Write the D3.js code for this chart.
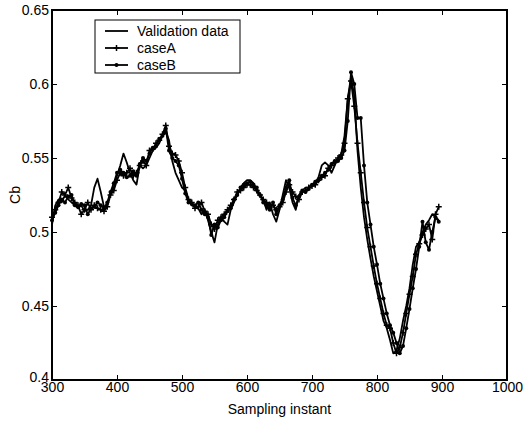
<!DOCTYPE html>
<html>
<head>
<meta charset="utf-8">
<script src="https://cdn.jsdelivr.net/npm/d3@7"></script>
<style>
  body { margin: 0; background: #fff; }
  svg { font-family: "Liberation Sans", Arial, sans-serif; }
</style>
</head>
<body>
<div id="chart"></div>
<script>
// sampling instants (step 5)
const samples = d3.range(300, 900, 5);

const validation = [
  0.505, 0.518, 0.522, 0.520, 0.525, 0.522, 0.520, 0.518, 0.516, 0.518,
  0.514, 0.515, 0.518, 0.530, 0.536, 0.527, 0.517, 0.518, 0.527, 0.530,
  0.538, 0.545, 0.553, 0.547, 0.540, 0.535, 0.532, 0.545, 0.543, 0.545,
  0.550, 0.555, 0.557, 0.560, 0.565, 0.568, 0.562, 0.548, 0.540, 0.535,
  0.530, 0.528, 0.522, 0.518, 0.517, 0.516, 0.512, 0.515, 0.508, 0.500,
  0.493, 0.505, 0.510, 0.507, 0.505, 0.515, 0.520, 0.525, 0.530, 0.533,
  0.535, 0.535, 0.533, 0.527, 0.525, 0.522, 0.515, 0.520, 0.512, 0.507,
  0.515, 0.525, 0.535, 0.530, 0.520, 0.515, 0.525, 0.528, 0.530, 0.530,
  0.532, 0.533, 0.537, 0.545, 0.547, 0.545, 0.540, 0.545, 0.550, 0.553,
  0.565, 0.590, 0.605, 0.592, 0.555, 0.530, 0.510, 0.495, 0.482, 0.470,
  0.460, 0.450, 0.440, 0.435, 0.427, 0.418, 0.420, 0.428, 0.440, 0.450,
  0.462, 0.478, 0.490, 0.493, 0.500, 0.505, 0.508, 0.512, 0.510, 0.508
];

const caseA = [
  0.510, 0.515, 0.520, 0.527, 0.525, 0.530, 0.523, 0.520, 0.518, 0.512,
  0.515, 0.520, 0.515, 0.518, 0.516, 0.515, 0.514, 0.517, 0.525, 0.528,
  0.535, 0.540, 0.538, 0.540, 0.543, 0.538, 0.540, 0.545, 0.548, 0.545,
  0.555, 0.556, 0.560, 0.562, 0.566, 0.572, 0.558, 0.553, 0.552, 0.548,
  0.540, 0.530, 0.522, 0.520, 0.516, 0.517, 0.520, 0.514, 0.512, 0.505,
  0.502, 0.508, 0.510, 0.512, 0.515, 0.518, 0.522, 0.527, 0.528, 0.530,
  0.532, 0.532, 0.530, 0.528, 0.525, 0.522, 0.520, 0.518, 0.518, 0.515,
  0.517, 0.520, 0.527, 0.532, 0.527, 0.524, 0.522, 0.527, 0.528, 0.530,
  0.531, 0.532, 0.535, 0.537, 0.538, 0.543, 0.545, 0.547, 0.550, 0.552,
  0.560, 0.590, 0.602, 0.585, 0.560, 0.540, 0.520, 0.503, 0.490, 0.477,
  0.465, 0.455, 0.445, 0.437, 0.435, 0.425, 0.418, 0.422, 0.432, 0.445,
  0.458, 0.470, 0.485, 0.492, 0.498, 0.502, 0.505, 0.495, 0.512, 0.517
];

const caseB = [
  0.508, 0.513, 0.518, 0.522, 0.520, 0.524, 0.525, 0.518, 0.517, 0.519,
  0.518, 0.512, 0.516, 0.517, 0.520, 0.518, 0.516, 0.520, 0.527, 0.533,
  0.540, 0.542, 0.540, 0.537, 0.538, 0.541, 0.538, 0.546, 0.550, 0.548,
  0.553, 0.557, 0.558, 0.563, 0.565, 0.570, 0.555, 0.550, 0.548, 0.545,
  0.536, 0.526, 0.520, 0.519, 0.518, 0.520, 0.515, 0.512, 0.510, 0.498,
  0.505, 0.503, 0.508, 0.510, 0.514, 0.516, 0.522, 0.525, 0.530, 0.532,
  0.533, 0.534, 0.532, 0.530, 0.525, 0.520, 0.518, 0.515, 0.520, 0.512,
  0.518, 0.522, 0.530, 0.535, 0.523, 0.518, 0.524, 0.528, 0.527, 0.529,
  0.532, 0.534, 0.535, 0.538, 0.540, 0.542, 0.546, 0.548, 0.548, 0.550,
  0.555, 0.575, 0.608, 0.600, 0.577, 0.577, 0.545, 0.520, 0.505, 0.490,
  0.478, 0.465, 0.455, 0.445, 0.437, 0.432, 0.425, 0.418, 0.423, 0.435,
  0.448, 0.462, 0.475, 0.490, 0.507, 0.493, 0.488, 0.500, 0.510, 0.507
];

const xTicks = [300, 400, 500, 600, 700, 800, 900, 1000];
const yTicks = [0.4, 0.45, 0.5, 0.55, 0.6, 0.65];
const legendLabels = ["Validation data", "caseA", "caseB"];

const width = 532, height = 423;
const margin = { left: 52, top: 10, right: 25, bottom: 43 };
const innerW = width - margin.left - margin.right;
const innerH = height - margin.top - margin.bottom;
const fontSize = "14px";

const svg = d3.select("#chart").append("svg")
  .attr("width", width)
  .attr("height", height);

const g = svg.append("g")
  .attr("transform", `translate(${margin.left},${margin.top})`);

const x = d3.scaleLinear().domain([300, 1000]).range([0, innerW]);
const y = d3.scaleLinear().domain([0.4, 0.65]).range([innerH, 0]);

const fmtY = d => String(+d.toFixed(2));

// axes, ticks pointing inward
function styleAxis(sel) {
  sel.select(".domain").remove();
  sel.selectAll(".tick line").attr("stroke", "#000").attr("stroke-width", 1);
  sel.selectAll(".tick text").attr("fill", "#000").style("font-size", fontSize);
}

g.append("g")
  .attr("transform", `translate(0,${innerH})`)
  .call(d3.axisBottom(x).tickValues(xTicks).tickSize(-5).tickPadding(2).tickFormat(d3.format("d")))
  .call(styleAxis);

g.append("g")
  .call(d3.axisTop(x).tickValues(xTicks).tickSize(-5).tickFormat(""))
  .call(styleAxis);

const yAxis = g.append("g")
  .call(d3.axisLeft(y).tickValues(yTicks).tickSize(-5).tickPadding(3).tickFormat(fmtY))
  .call(styleAxis);
// lowest label sits a little higher, as in the original
yAxis.selectAll(".tick text").filter(d => d === 0.4).attr("dy", "0.1em");

g.append("g")
  .attr("transform", `translate(${innerW},0)`)
  .call(d3.axisRight(y).tickValues(yTicks).tickSize(-5).tickFormat(""))
  .call(styleAxis);

// series
const line = d3.line()
  .x((d, i) => x(samples[i]))
  .y(d => y(d));

[validation, caseA, caseB].forEach(s => {
  g.append("path")
    .datum(s)
    .attr("fill", "none")
    .attr("stroke", "#000")
    .attr("stroke-width", 1.8)
    .attr("stroke-linejoin", "round")
    .attr("d", line);
});

// markers
const plusPath = "M-3,0H3M0,-3V3";
g.append("g").selectAll("path")
  .data(caseA)
  .join("path")
  .attr("transform", (d, i) => `translate(${x(samples[i])},${y(d)})`)
  .attr("d", plusPath)
  .attr("stroke", "#000")
  .attr("stroke-width", 1.5);

g.append("g").selectAll("circle")
  .data(caseB)
  .join("circle")
  .attr("cx", (d, i) => x(samples[i]))
  .attr("cy", d => y(d))
  .attr("r", 2)
  .attr("fill", "#000");

// frame
g.append("rect")
  .attr("width", innerW)
  .attr("height", innerH)
  .attr("fill", "none")
  .attr("stroke", "#000")
  .attr("stroke-width", 2);

// axis labels
svg.append("text")
  .attr("x", margin.left + innerW / 2)
  .attr("y", 414)
  .attr("text-anchor", "middle")
  .style("font-size", fontSize)
  .text("Sampling instant");

svg.append("text")
  .attr("transform", `translate(20,${margin.top + innerH / 2}) rotate(-90)`)
  .attr("text-anchor", "middle")
  .style("font-size", fontSize)
  .text("Cb");

// legend
const lg = svg.append("g").attr("transform", "translate(95,20)");
lg.append("rect")
  .attr("width", 145)
  .attr("height", 53)
  .attr("fill", "#fff")
  .attr("stroke", "#000")
  .attr("stroke-width", 1);

legendLabels.forEach((lab, i) => {
  const ly = 11 + i * 17;
  lg.append("line")
    .attr("x1", 10).attr("x2", 33)
    .attr("y1", ly).attr("y2", ly)
    .attr("stroke", "#000").attr("stroke-width", 1.8);
  if (i === 1) {
    lg.append("path")
      .attr("transform", `translate(21.5,${ly})`)
      .attr("d", plusPath)
      .attr("stroke", "#000").attr("stroke-width", 1.5);
  }
  if (i === 2) {
    lg.append("circle")
      .attr("cx", 21.5).attr("cy", ly).attr("r", 2)
      .attr("fill", "#000");
  }
  lg.append("text")
    .attr("x", 42)
    .attr("y", ly + 5)
    .style("font-size", fontSize)
    .text(lab);
});
</script>
</body>
</html>
